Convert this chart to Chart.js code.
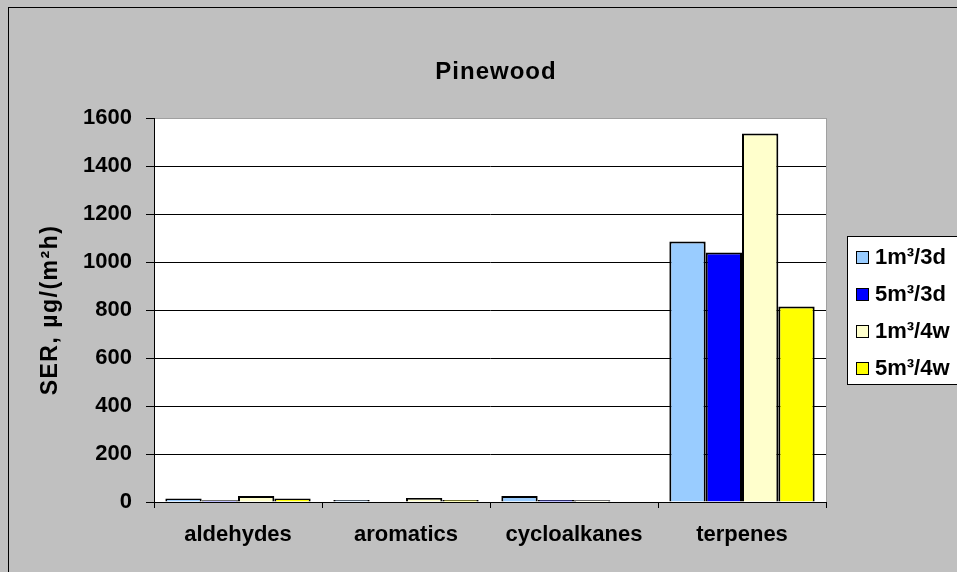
<!DOCTYPE html>
<html>
<head>
<meta charset="utf-8">
<script src="https://cdn.jsdelivr.net/npm/chart.js@4.4.0/dist/chart.umd.min.js"></script>
<style>
  html, body { margin: 0; padding: 0; background: #c0c0c0; }
  #wrap { width: 957px; height: 572px; }
</style>
</head>
<body>
<div id="wrap"><canvas id="serChart" width="957" height="572"></canvas></div>
<script>
// values
const categories = ['aldehydes', 'aromatics', 'cycloalkanes', 'terpenes'];
const seriesLabels = ['1m\u00b3/3d', '5m\u00b3/3d', '1m\u00b3/4w', '5m\u00b3/4w'];
const s1m3d = [15, 8, 25, 1085];
const s5m3d = [7, null, 8, 1040];
const s1m4w = [25, 17, 7, 1535];
const s5m4w = [15, 8, null, 815];
const yTicks = [0, 200, 400, 600, 800, 1000, 1200, 1400, 1600];
const yTitle = 'SER, \u00b5g/(m\u00b2h)';

const colors = ['#99ccff', '#0000ff', '#ffffcc', '#ffff00'];
const FONT = '"Liberation Sans", Arial, sans-serif';

// grey background, outer frame, white plot area, title, y title and legend
const excelLook = {
  id: 'excelLook',
  beforeDraw(chart) {
    const { ctx, chartArea: a } = chart;
    ctx.save();
    ctx.fillStyle = '#c0c0c0';
    ctx.fillRect(0, 0, chart.width, chart.height);
    ctx.strokeStyle = '#000';
    ctx.lineWidth = 1;
    ctx.strokeRect(8.5, 7.5, 1200, 1200);
    ctx.fillStyle = '#fff';
    ctx.fillRect(a.left, a.top, a.right - a.left, a.bottom - a.top);
    ctx.strokeStyle = '#a0a0a0';
    ctx.strokeRect(a.left + 0.5, a.top + 0.5, a.right - a.left, a.bottom - a.top);
    ctx.restore();
  },
  afterDraw(chart) {
    const { ctx, chartArea: a } = chart;
    ctx.save();
    ctx.fillStyle = '#000';
    ctx.letterSpacing = '1px';
    ctx.font = 'bold 24px ' + FONT;
    ctx.textAlign = 'center';
    ctx.textBaseline = 'middle';
    ctx.fillText('Pinewood', 496, 72);

    // y axis title
    ctx.save();
    ctx.translate(51, (a.top + a.bottom) / 2);
    ctx.rotate(-Math.PI / 2);
    ctx.letterSpacing = '1.5px';
    ctx.font = 'bold 23px ' + FONT;
    ctx.fillText(yTitle, 0, 0);
    ctx.restore();

    // legend
    ctx.letterSpacing = '0px';
    ctx.fillStyle = '#fff';
    ctx.fillRect(847, 236, 200, 148);
    ctx.strokeStyle = '#000';
    ctx.lineWidth = 1;
    ctx.strokeRect(847.5, 236.5, 200, 148);
    ctx.font = 'bold 22px ' + FONT;
    ctx.textAlign = 'left';
    chart.data.datasets.forEach((ds, i) => {
      const cy = 257 + i * 37;
      ctx.fillStyle = ds.backgroundColor;
      ctx.fillRect(856, cy - 6, 12, 12);
      ctx.strokeStyle = '#000';
      ctx.strokeRect(856.5, cy - 5.5, 12, 12);
      ctx.fillStyle = '#000';
      ctx.fillText(ds.label, 875, cy + 1);
    });
    ctx.restore();
  }
};

const series = [s1m3d, s5m3d, s1m4w, s5m4w];

new Chart(document.getElementById('serChart'), {
  type: 'bar',
  data: {
    labels: categories,
    datasets: series.map((vals, i) => ({
      label: seriesLabels[i],
      data: vals,
      backgroundColor: colors[i],
      borderColor: '#000',
      borderWidth: 2,
      borderSkipped: 'bottom',
      categoryPercentage: 0.865,
      barPercentage: 1
    }))
  },
  options: {
    responsive: false,
    animation: false,
    devicePixelRatio: 1,
    layout: { padding: { top: 118, left: 10, right: 131, bottom: 0 } },
    plugins: {
      legend: { display: false },
      title: { display: false },
      tooltip: { enabled: false }
    },
    scales: {
      x: {
        afterFit: (s) => { s.height = 70; },
        grid: {
          offset: true,
          drawOnChartArea: false,
          tickLength: 6,
          tickColor: '#000'
        },
        border: { color: '#000', width: 1 },
        ticks: {
          color: '#000',
          padding: 14,
          font: { family: FONT, size: 22, weight: 'bold' }
        }
      },
      y: {
        min: 0,
        max: 1600,
        afterFit: (s) => { s.width = 144; },
        afterBuildTicks: (s) => { s.ticks = yTicks.map(v => ({ value: v })); },
        grid: {
          color: (c) => c.tick && c.tick.value === 1600 ? 'rgba(0,0,0,0)' : '#000',
          tickColor: '#000',
          tickLength: 8,
          lineWidth: 1
        },
        border: { color: '#000', width: 1 },
        ticks: {
          color: '#000',
          padding: 14,
          callback: (v) => String(v),
          font: { family: FONT, size: 22, weight: 'bold' }
        }
      }
    }
  },
  plugins: [excelLook]
});
</script>
</body>
</html>
